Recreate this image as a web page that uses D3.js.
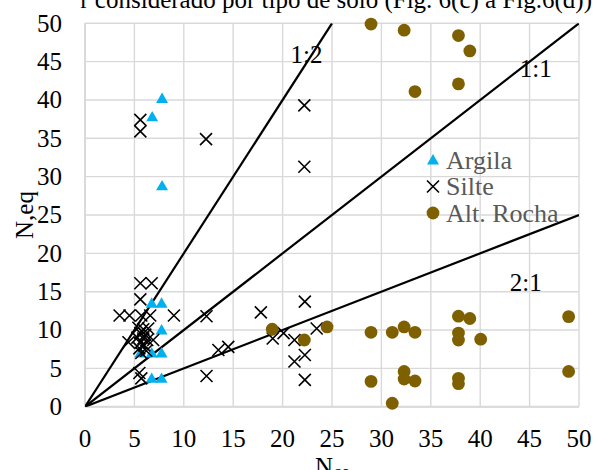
<!DOCTYPE html>
<html>
<head>
<meta charset="utf-8">
<script src="https://cdn.jsdelivr.net/npm/d3@7"></script>
<style>
  html, body { margin: 0; padding: 0; background: #fff; }
  svg { display: block; }
  text { font-family: "Liberation Serif", "Times New Roman", serif; }
</style>
</head>
<body>
<svg id="chart" width="594" height="470"></svg>
<script>
// N60 vs N,eq by soil type
const argila = [
  [7.8, 40.2], [6.8, 37.8], [7.8, 28.8],
  [6.75, 13.5], [7.75, 13.5], [7.75, 10.0],
  [5.6, 7.0], [6.75, 7.0], [7.75, 7.0],
  [6.75, 3.7], [7.75, 3.7]
];
const silte = [
  [5.6, 37.4], [5.6, 35.9], [12.25, 34.9], [22.2, 39.3], [22.2, 31.3],
  [5.6, 16.1], [6.75, 16.1], [5.6, 14.0],
  [3.5, 11.9], [4.5, 11.9], [5.7, 11.9], [6.6, 11.9], [9.0, 11.9],
  [5.4, 10.3], [5.9, 10.1], [6.4, 10.2], [5.6, 9.6], [6.1, 9.4],
  [5.3, 9.0], [5.9, 8.9], [6.3, 8.7], [5.6, 8.3], [6.0, 8.0],
  [4.4, 8.4], [6.9, 8.7], [5.5, 7.6], [6.2, 7.3], [5.7, 7.0],
  [5.5, 4.4], [5.7, 3.7],
  [12.3, 11.8], [12.3, 4.0], [13.5, 7.4], [14.5, 7.8],
  [17.8, 12.3], [19.0, 8.9], [20.1, 9.6], [21.2, 8.7], [21.2, 5.9],
  [22.25, 13.7], [22.25, 6.75], [22.25, 3.5], [23.45, 10.2]
];
const altRocha = [
  [28.95, 49.9], [32.3, 49.1], [37.8, 48.4], [38.95, 46.4],
  [33.4, 41.1], [37.8, 42.1],
  [18.95, 10.1], [22.2, 8.7], [24.5, 10.4],
  [28.95, 9.7], [31.1, 9.7], [32.3, 10.4], [33.4, 9.7],
  [37.8, 11.8], [38.95, 11.5], [37.8, 9.6], [37.8, 8.7], [40.05, 8.8],
  [48.95, 11.75], [48.95, 4.6],
  [28.95, 3.3], [32.3, 4.6], [32.3, 3.6], [33.4, 3.35],
  [37.8, 3.7], [37.8, 3.0], [31.1, 0.45]
];
// Reference ratio lines (N,eq = slope * N60)
const refLines = [
  { name: "1:2", slope: 2, label: [20.8, 44.8] },
  { name: "1:1", slope: 1, label: [44.0, 43.0] },
  { name: "2:1", slope: 0.5, label: [43.0, 15.1] }
];
const xTicks = d3.range(0, 51, 5);
const yTicks = d3.range(0, 51, 5);
const legendItems = ["Argila", "Silte", "Alt. Rocha"];
const caption = "r considerado por tipo de solo (Fig. 6(c) a Fig.6(d))";

const svg = d3.select("#chart");
const pLeft = 85, pRight = 579, pTop = 23.3, pBottom = 406.7;
const x = d3.scaleLinear().domain([0, 50]).range([pLeft, pRight]);
const y = d3.scaleLinear().domain([0, 50]).range([pBottom, pTop]);

const COL_ARG = "#00b0f0", COL_ROCK = "#7f6000", GRID = "#d9d9d9";

// caption line from the surrounding text
svg.append("text").attr("x", 592).attr("y", 8).attr("text-anchor", "end")
  .attr("font-size", 25).attr("fill", "#000").text(caption);

// grid
const g = svg.append("g");
g.selectAll("line.vx").data(xTicks).join("line")
  .attr("x1", d => x(d)).attr("x2", d => x(d)).attr("y1", pTop).attr("y2", pBottom)
  .attr("stroke", GRID).attr("stroke-width", 1.4);
g.selectAll("line.hy").data(yTicks).join("line")
  .attr("y1", d => y(d)).attr("y2", d => y(d)).attr("x1", pLeft).attr("x2", pRight)
  .attr("stroke", GRID).attr("stroke-width", 1.4);
// axis lines
g.append("line").attr("x1", pLeft).attr("x2", pRight).attr("y1", pBottom).attr("y2", pBottom)
  .attr("stroke", GRID).attr("stroke-width", 2);
g.append("line").attr("x1", pLeft).attr("x2", pLeft).attr("y1", pTop).attr("y2", pBottom)
  .attr("stroke", GRID).attr("stroke-width", 2);

// tick labels
svg.append("g").selectAll("text").data(xTicks).join("text")
  .attr("x", d => x(d)).attr("y", pBottom + 40).attr("text-anchor", "middle")
  .attr("font-size", 25).text(d => d);
svg.append("g").selectAll("text").data(yTicks).join("text")
  .attr("x", 62).attr("y", d => y(d) + 8.4).attr("text-anchor", "end")
  .attr("font-size", 25).text(d => d);

// axis titles
svg.append("text").attr("transform", `translate(33,${(pTop + pBottom) / 2}) rotate(-90)`)
  .attr("text-anchor", "middle").attr("font-size", 25).text("N,eq");
const xt = svg.append("text").attr("x", 315).attr("y", 475).attr("font-size", 25);
xt.append("tspan").text("N");
xt.append("tspan").attr("font-size", 17).attr("dy", 5).text("60");

// ratio lines, clipped to plot frame
svg.append("defs").append("clipPath").attr("id", "plot")
  .append("rect").attr("x", pLeft).attr("y", pTop).attr("width", pRight - pLeft).attr("height", pBottom - pTop);
const lineG = svg.append("g").attr("clip-path", "url(#plot)");
refLines.forEach(r => {
  const xEnd = Math.min(50, 50 / r.slope);
  lineG.append("line")
    .attr("x1", x(0)).attr("y1", y(0)).attr("x2", x(xEnd)).attr("y2", y(xEnd * r.slope))
    .attr("stroke", "#000").attr("stroke-width", 2.2);
  svg.append("text").attr("x", x(r.label[0])).attr("y", y(r.label[1]))
    .attr("font-size", 25).attr("fill", "#000").text(r.name);
});

// markers
const tri = d3.symbol().type(d3.symbolTriangle).size(62);
svg.append("g").selectAll("path").data(argila).join("path")
  .attr("d", tri).attr("transform", d => `translate(${x(d[0])},${y(d[1]) + 1})`)
  .attr("fill", COL_ARG);

const cross = (sel, s) => sel.append("path")
  .attr("d", `M${-s},${-s}L${s},${s}M${-s},${s}L${s},${-s}`)
  .attr("stroke", "#000").attr("stroke-width", 1.6).attr("fill", "none");
const sg = svg.append("g");
silte.forEach(d => {
  const gg = sg.append("g").attr("transform", `translate(${x(d[0])},${y(d[1])})`);
  cross(gg, 6);
});

svg.append("g").selectAll("circle").data(altRocha).join("circle")
  .attr("cx", d => x(d[0])).attr("cy", d => y(d[1])).attr("r", 6.4)
  .attr("fill", COL_ROCK);

// legend
const lg = svg.append("g");
const lx = 433, ly0 = 160, lstep = 26.5;
legendItems.forEach((name, i) => {
  const yy = ly0 + i * lstep;
  if (i === 0) lg.append("path").attr("d", tri).attr("transform", `translate(${lx},${yy + 1})`).attr("fill", COL_ARG);
  if (i === 1) cross(lg.append("g").attr("transform", `translate(${lx},${yy})`), 6);
  if (i === 2) lg.append("circle").attr("cx", lx).attr("cy", yy).attr("r", 6.4).attr("fill", COL_ROCK);
  lg.append("text").attr("x", lx + 13).attr("y", yy + 8.5).attr("font-size", 26)
    .attr("fill", "#595959").text(name);
});
</script>
</body>
</html>
